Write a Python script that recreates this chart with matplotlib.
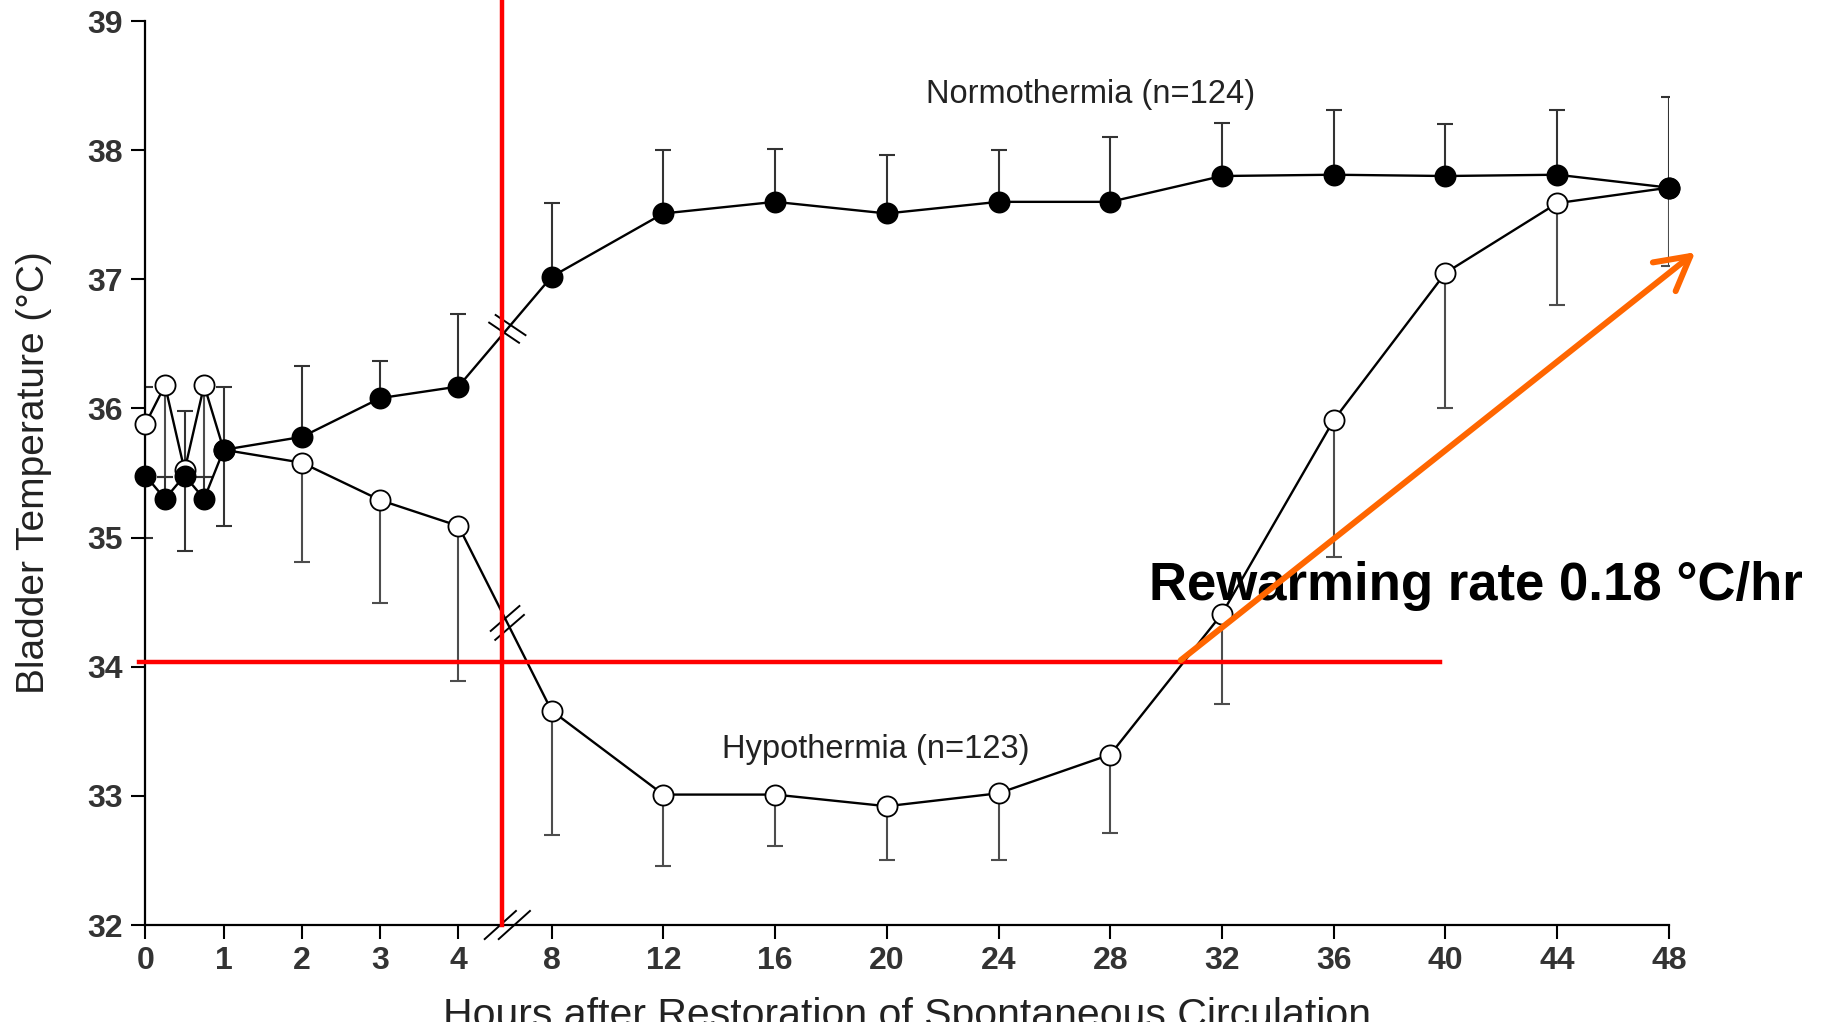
import numpy as np
import matplotlib
matplotlib.use('Agg')
import matplotlib.pyplot as plt
from matplotlib import transforms

plt.rcParams['font.family'] = ['Liberation Sans', 'DejaVu Sans']

# hours after ROSC and bladder temperature (mean, error bar ends)
hours = [0, 0.25, 0.5, 0.75, 1, 2, 3, 4, 8, 12, 16, 20, 24, 28, 32, 36, 40, 44, 48]

normo_mean = [35.48, 35.30, 35.48, 35.30, 35.68, 35.78, 36.08, 36.17, 37.02, 37.51,
              37.60, 37.51, 37.60, 37.60, 37.80, 37.81, 37.80, 37.81, 37.71]
normo_low = [35.00, None, 34.90, None, 35.09, None, None, None, None, None,
             None, None, None, None, None, None, None, None, None]
normo_high = [36.17, 35.47, 35.98, 35.47, 36.17, 36.33, 36.37, 36.73, 37.59, 38.00,
              38.01, 37.96, 38.00, 38.10, 38.21, 38.31, 38.20, 38.31, 38.41]

hypo_mean = [35.88, 36.18, 35.52, 36.18, 35.68, 35.58, 35.29, 35.09, 33.66, 33.01,
             33.01, 32.92, 33.02, 33.32, 34.41, 35.91, 37.05, 37.59, 37.71]
hypo_low = [None, 35.47, None, 35.47, None, 34.81, 34.49, 33.89, 32.70, 32.46,
            32.61, 32.50, 32.50, 32.71, 33.71, 34.85, 36.00, 36.80, 37.10]

x_ticks = [0, 1, 2, 3, 4, 8, 12, 16, 20, 24, 28, 32, 36, 40, 44, 48]
y_ticks = [32, 33, 34, 35, 36, 37, 38, 39]

normo_label = 'Normothermia (n=124)'
hypo_label = 'Hypothermia (n=123)'
rate_label = 'Rewarming rate 0.18 \u00b0C/hr'

# broken time axis: first 4 h stretched, then 8..48 h compressed
GAP = 1.19      # width of the 4->8 h gap, in "early hour" units
SLOPE = 0.357   # width of one late hour
BREAK_H = 6.1
RED_X = 5.85
RED_Y = 34.04
RED_END = 39.8


def fwd(h):
    h = np.asarray(h, dtype=float)
    return np.where(h <= 4, h,
                    np.where(h <= 8, 4 + (h - 4) * GAP / 4, 4 + GAP + (h - 8) * SLOPE))


def inv(p):
    p = np.asarray(p, dtype=float)
    return np.where(p <= 4, p,
                    np.where(p <= 4 + GAP, 4 + (p - 4) * 4 / GAP, 8 + (p - 4 - GAP) / SLOPE))


fig = plt.figure(figsize=(18.25, 10.22), dpi=100)
ax = fig.add_axes([0.0797, 0.0949, 0.8348, 0.8845])
ax.set_xscale('function', functions=(fwd, inv))
ax.set_xlim(0, 48)
ax.set_ylim(32, 39)


def one_sided_bars(mean, ends, color):
    # one errorbar call per direction so a missing side does not hide the other
    m = np.array(mean, dtype=float)
    d = np.array(ends, dtype=float) - m
    zero = np.zeros_like(m)
    lower = np.where(d < 0, -d, np.nan)
    upper = np.where(d > 0, d, np.nan)
    for yerr in ([lower, zero], [zero, upper]):
        ax.errorbar(hours, m, yerr=yerr, fmt='none', ecolor=color, elinewidth=1.5,
                    capsize=5.5, capthick=1.5, zorder=2)


one_sided_bars(hypo_mean, hypo_low, '#4d4d4d')
one_sided_bars(normo_mean, normo_low, '#333333')
one_sided_bars(normo_mean, normo_high, '#333333')

ax.plot(hours, hypo_mean, color='black', lw=1.7, zorder=3, clip_on=False)
ax.plot(hours, normo_mean, color='black', lw=1.7, zorder=3, clip_on=False)
ax.plot(hours, hypo_mean, 'o', ms=14.5, mfc='white', mec='black', mew=1.3,
        zorder=4, clip_on=False)
ax.plot(hours, normo_mean, 'o', ms=14.5, mfc='black', mec='black', mew=1.3,
        zorder=5, clip_on=False)


def break_marks(series, angle, length, gap, clip=True):
    # two short parallel strokes where the series crosses the axis break
    i4, i8 = hours.index(4), hours.index(8)
    p4 = ax.transData.transform((4, series[i4]))
    p8 = ax.transData.transform((8, series[i8]))
    xb = ax.transData.transform((BREAK_H, 35))[0]
    c = p4 + (xb - p4[0]) / (p8[0] - p4[0]) * (p8 - p4)
    u = (p8 - p4) / np.hypot(*(p8 - p4))
    d = np.array([np.cos(np.radians(angle)), np.sin(np.radians(angle))])
    for s in (-0.5, 0.5):
        cc = c + s * gap * u
        a, b = cc - d * length / 2, cc + d * length / 2
        ax.plot([a[0], b[0]], [a[1], b[1]], color='black', lw=1.4,
                transform=transforms.IdentityTransform(), clip_on=clip, zorder=6)


break_marks(normo_mean, -34, 36, 10)
break_marks(hypo_mean, 41, 38, 10)
break_marks([32] * len(hours), 42, 42, 14, clip=False)

# red guide lines
ax.plot([RED_X, RED_X], [32, 39.25], color='#ff0000', lw=3.2, clip_on=False, zorder=7)
ax.plot([-0.08, RED_END], [RED_Y, RED_Y], color='#ff0000', lw=3.2, clip_on=False, zorder=7)

ax.text(27.3, 38.43, normo_label, ha='center', va='center', fontsize=23.5, color='#222222')
ax.text(19.6, 33.36, hypo_label, ha='center', va='center', fontsize=23.5, color='#222222')
ax.text(29.4, 34.52, rate_label, ha='left', va='baseline', fontsize=38,
        fontweight='bold', color='black', clip_on=False, zorder=8)

ax.annotate('', xy=(48.94, 37.21), xytext=(30.52, 34.05),
            arrowprops=dict(arrowstyle='->,head_length=0.6,head_width=0.33',
                            color='#ff6600', lw=4.3, mutation_scale=40,
                            shrinkA=0, shrinkB=0, capstyle='round'),
            annotation_clip=False, zorder=9)

ax.set_xticks(x_ticks)
ax.set_xticklabels([str(t) for t in x_ticks], fontweight='bold')
ax.set_yticks(y_ticks)
ax.set_yticklabels([str(t) for t in y_ticks], fontweight='bold')
ax.minorticks_off()
ax.tick_params(direction='out', length=10, width=1.5, labelsize=23,
               labelcolor='#333333', color='black')
ax.tick_params(axis='x', pad=5)
ax.tick_params(axis='y', pad=6)

for side in ('top', 'right'):
    ax.spines[side].set_visible(False)
for side in ('left', 'bottom'):
    ax.spines[side].set_linewidth(1.6)

ax.set_ylabel('Bladder Temperature (\u00b0C)', fontsize=28, color='#222222')
ax.yaxis.set_label_coords(-0.0614, 0.5)
ax.set_xlabel('Hours after Restoration of Spontaneous Circulation', fontsize=29.5,
              color='#222222')
ax.xaxis.set_label_coords(0.5, -0.08)

fig.savefig('out.png', dpi=100)
